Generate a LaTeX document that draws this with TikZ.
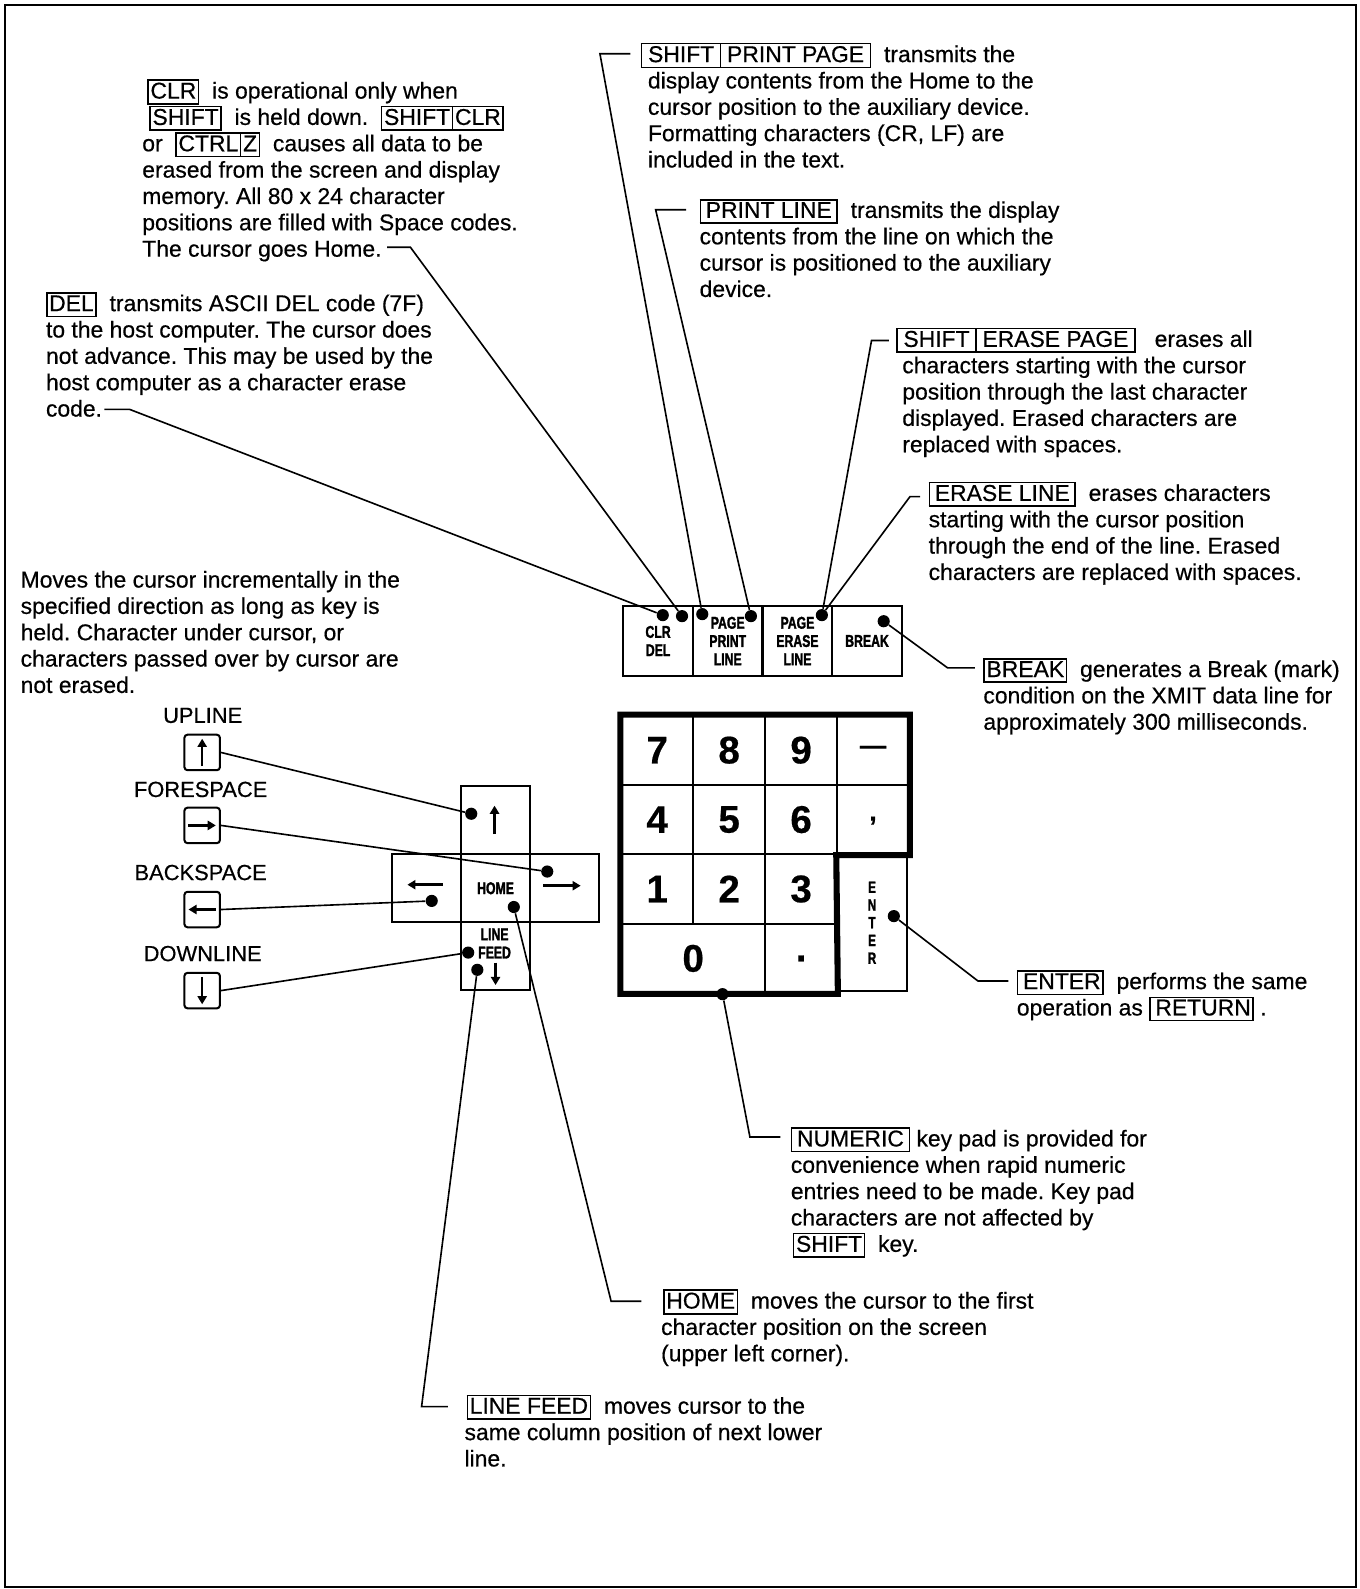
\documentclass[tikz,border=0pt]{standalone}
\usepackage{fontspec}
\setmainfont[FakeBold=0.5]{Liberation Sans}
\newfontfamily\keyfont[FakeStretch=0.72,FakeBold=1.6]{Liberation Sans Bold}
\usetikzlibrary{arrows.meta}
\setlength{\fboxsep}{0.8pt}
\setlength{\fboxrule}{0.75pt}
\newcommand{\kc}[1]{\fbox{\rule[-1.4pt]{0pt}{8.8pt}#1}}
\newcommand{\kcc}[2]{\kc{#1}\hspace{-\fboxrule}\kc{#2}}
\frenchspacing
\tikzset{
  kb frame/.style={line width=1pt},
  kb note/.style={font=\fontsize{11.3}{13}\selectfont, align=left, inner sep=0pt, anchor=north west},
  kb label/.style={font=\fontsize{10.8}{13}\selectfont, inner sep=0pt},
  kb fkey/.style={draw, line width=1.1pt, inner sep=0pt, minimum width=34.4pt, minimum height=34.5pt,
    align=center, font=\keyfont\fontsize{8.4}{9}\selectfont},
  kb num/.style={draw, line width=0.8pt, inner sep=0pt, minimum width=35.5pt, minimum height=34.25pt,
    font=\bfseries\fontsize{19}{19}\selectfont},
  kb thick/.style={line width=3pt, line join=miter},
  kb cross/.style={draw, line width=1pt, inner sep=0pt, minimum width=34pt, minimum height=33.5pt,
    font=\keyfont\fontsize{8.4}{9}\selectfont, align=center},
  kb small/.style={draw, line width=1pt, rounded corners=1.5pt, minimum size=17.5pt, inner sep=0pt},
  kb arrow/.style={line width=1.2pt, -{Triangle[length=4pt,width=4.5pt]}},
  kb dot/.style={circle, fill, inner sep=0pt, minimum size=6pt},
  kb lead/.style={line width=0.8pt}
}

\begin{document}
\begin{tikzpicture}[x=0.5pt, y=-0.5pt]
  \useasboundingbox (0,0) rectangle (1342,1568);
  \draw[kb frame] (5,5) rectangle (1338,1566);

  % notes
  \node[kb note] (clrNote) at (140,78) {\hspace{2.5pt}\kc{CLR}\ \ is operational only when\\
    \hspace{3.5pt}\kc{SHIFT}\ \ is held down.\ \ \kcc{SHIFT}{CLR}\\
    or\ \ \kcc{CTRL}{Z}\ \ causes all data to be\\
    erased from the screen and display\\
    memory. All 80 x 24 character\\
    positions are filled with Space codes.\\
    The cursor goes Home.};
  \node[kb note] (delNote) at (45,288) {\kc{DEL}\ \ transmits ASCII DEL code (7F)\\
    to the host computer. The cursor does\\
    not advance. This may be used by the\\
    host computer as a character erase\\
    code.};
  \node[kb note] (pageNote) at (639,42) {\hspace*{-3.5pt}\kcc{\hspace{2pt}SHIFT\hspace{2pt}}{\hspace{2pt}PRINT PAGE\hspace{2pt}}\ \ transmits the\\
    display contents from the Home to the\\
    cursor position to the auxiliary device.\\
    Formatting characters (CR, LF) are\\
    included in the text.};
  \node[kb note] (lineNote) at (690,196) {\kc{\hspace{1.5pt}PRINT LINE\hspace{1.5pt}}\ \ transmits the display\\
    contents from the line on which the\\
    cursor is positioned to the auxiliary\\
    device.};
  \node[kb note] (erasePageNote) at (890,323) {\hspace*{-3pt}\kcc{\hspace{2pt}SHIFT\hspace{2pt}}{\hspace{2pt}ERASE PAGE\hspace{2pt}}\ \ \ erases all\\
    characters starting with the cursor\\
    position through the last character\\
    displayed. Erased characters are\\
    replaced with spaces.};
  \node[kb note] (eraseLineNote) at (916,475) {\kc{\hspace{1.5pt}ERASE LINE\hspace{1.5pt}}\ \ erases characters\\
    starting with the cursor position\\
    through the end of the line. Erased\\
    characters are replaced with spaces.};
  \node[kb note] (breakNote) at (970,649) {\kc{BREAK}\ \ generates a Break (mark)\\
    condition on the XMIT data line for\\
    approximately 300 milliseconds.};
  \node[kb note] (enterNote) at (1003,957) {\kc{\hspace{1.5pt}ENTER}\ \ performs the same\\
    operation as \kc{\hspace{1.5pt}RETURN}\ .};
  \node[kb note] (numNote) at (780,1112) {\kc{\hspace{1.5pt}NUMERIC\hspace{1.5pt}}\ key pad is provided for\\
    convenience when rapid numeric\\
    entries need to be made. Key pad\\
    characters are not affected by\\
    \hspace{1pt}\kc{SHIFT}\ \ key.};
  \node[kb note] (homeNote) at (652,1272) {\hspace{1pt}\kc{HOME}\ \ moves the cursor to the first\\
    character position on the screen\\
    (upper left corner).};
  \node[kb note] (feedNote) at (458,1376) {\hspace{1pt}\kc{LINE FEED}\ \ moves cursor to the\\
    same column position of next lower\\
    line.};
  \node[kb note] (moveNote) at (20,563) {Moves the cursor incrementally in the\\
    specified direction as long as key is\\
    held. Character under cursor, or\\
    characters passed over by cursor are\\
    not erased.};

  % function keys
  \node[kb fkey] (fClr) at (649.4,632.5) {CLR\\DEL};
  \node[kb fkey] (fPrint) at (718.1,632.5) {PAGE\\PRINT\\LINE};
  \node[kb fkey] (fErase) at (786.9,632.5) {PAGE\\ERASE\\LINE};
  \node[kb fkey] (fBreak) at (855.6,632.5) {BREAK};

  % numeric pad
  \node[kb num] (n7) at (648.5,740.25) {7};
  \node[kb num] (n8) at (719.5,740.25) {8};
  \node[kb num] (n9) at (790.5,740.25) {9};
  \node[kb num] (nMinus) at (861.5,740.25) {\fontsize{13}{13}\selectfont —};
  \node[kb num] (n4) at (648.5,808.75) {4};
  \node[kb num] (n5) at (719.5,808.75) {5};
  \node[kb num] (n6) at (790.5,808.75) {6};
  \node[kb num] (nComma) at (861.5,808.75) {\fontsize{13}{13}\selectfont\raisebox{-3pt}{,}};
  \node[kb num] (n1) at (648.5,877.25) {1};
  \node[kb num] (n2) at (719.5,877.25) {2};
  \node[kb num] (n3) at (790.5,877.25) {3};
  \node[kb num, minimum width=71pt] (n0) at (684,945.75) {0};
  \node[kb num] (nDot) at (790.5,945.75) {\raisebox{-2pt}{.}};
  \node[kb num, minimum width=34.5pt, minimum height=67.5pt, align=center,
    font=\keyfont\fontsize{8}{8.75}\selectfont] (nEnter) at (860.5,910.5) {E\\N\\T\\E\\R};
  \draw[kb thick] (n7.north west) -- (nMinus.north east) -- (nComma.south east) -- (nComma.south west)
    -- (nDot.south east) -- (n0.south west) -- cycle;

  % cursor cross
  \node[kb cross] (cUp) at (489,809.5) {};
  \node[kb cross] (cHome) at (489,876.5) {HOME};
  \node[kb cross] (cFeed) at (489,943.5) {};
  \node[kb cross] (cLeft) at (421,876.5) {};
  \node[kb cross] (cRight) at (557,876.5) {};
  \node[font=\keyfont\fontsize{8.4}{9}\selectfont, align=center, inner sep=0pt] (feedText) at (488,931) {LINE\\FEED};
  \draw[kb arrow] (488,823) -- (488,795);
  \draw[kb arrow] (536,874) -- (573,874);
  \draw[kb arrow] (437,873) -- (402,873);
  \draw[kb arrow] (489,950) -- (489,972);

  % single keys
  \node[kb label] (upLabel) at (200,706) {UPLINE};
  \node[kb label] (foreLabel) at (198,779) {FORESPACE};
  \node[kb label] (backLabel) at (198,861) {BACKSPACE};
  \node[kb label] (downLabel) at (200,941) {DOWNLINE};
  \node[kb small] (upKey) at (199.5,742.5) {};
  \node[kb small] (foreKey) at (199.5,814.5) {};
  \node[kb small] (backKey) at (199.5,897.5) {};
  \node[kb small] (downKey) at (199.5,977.5) {};
  \draw[kb arrow] (199.5,756) -- (199.5,729);
  \draw[kb arrow] (186,814.5) -- (213,814.5);
  \draw[kb arrow] (213,897.5) -- (186,897.5);
  \draw[kb arrow] (199.5,964) -- (199.5,991);

  % dots
  \node[kb dot] (delDot) at (654,607) {};
  \node[kb dot] (clrDot) at (673,608) {};
  \node[kb dot] (pageDot) at (693,606) {};
  \node[kb dot] (lineDot) at (741,608) {};
  \node[kb dot] (eraseDot) at (811,607) {};
  \node[kb dot] (breakDot) at (872,613) {};
  \node[kb dot] (enterDot) at (882,904) {};
  \node[kb dot] (numDot) at (713,981) {};
  \node[kb dot] (upDot) at (465,803) {};
  \node[kb dot] (rightDot) at (540,860) {};
  \node[kb dot] (leftDot) at (426,889) {};
  \node[kb dot] (homeDot) at (507,895) {};
  \node[kb dot] (feedDot) at (462,940) {};
  \node[kb dot] (lfDot) at (471,957) {};

  % leaders
  \coordinate (clrLead) at (382,244);   \coordinate (clrBend) at (405,244);
  \coordinate (delLead) at (103,404);   \coordinate (delBend) at (128,404);
  \coordinate (pageLead) at (622,53);   \coordinate (pageBend) at (592,53);
  \coordinate (lineLead) at (677,207);  \coordinate (lineBend) at (647,207);
  \coordinate (epLead) at (877,336);    \coordinate (epBend) at (860,336);
  \coordinate (elLead) at (908,490);    \coordinate (elBend) at (898,490);
  \coordinate (breakLead) at (962,659); \coordinate (breakBend) at (935,659);
  \coordinate (enterLead) at (995,968); \coordinate (enterBend) at (965,968);
  \coordinate (numLead) at (770,1122);  \coordinate (numBend) at (740,1122);
  \coordinate (homeLead) at (633,1284); \coordinate (homeBend) at (603,1284);
  \coordinate (lfLead) at (442,1388);   \coordinate (lfBend) at (416,1388);

  \draw[kb lead] (clrLead) -- (clrBend) -- (clrDot);
  \draw[kb lead] (delLead) -- (delBend) -- (delDot);
  \draw[kb lead] (pageLead) -- (pageBend) -- (pageDot);
  \draw[kb lead] (lineLead) -- (lineBend) -- (lineDot);
  \draw[kb lead] (epLead) -- (epBend) -- (eraseDot);
  \draw[kb lead] (elLead) -- (elBend) -- (eraseDot);
  \draw[kb lead] (breakDot) -- (breakBend) -- (breakLead);
  \draw[kb lead] (enterDot) -- (enterBend) -- (enterLead);
  \draw[kb lead] (numDot) -- (numBend) -- (numLead);
  \draw[kb lead] (homeDot) -- (homeBend) -- (homeLead);
  \draw[kb lead] (lfDot) -- (lfBend) -- (lfLead);
  \draw[kb lead] (upKey.east) -- (upDot);
  \draw[kb lead] (foreKey.east) -- (rightDot);
  \draw[kb lead] (backKey.east) -- (leftDot);
  \draw[kb lead] (downKey.east) -- (feedDot);
\end{tikzpicture}
\end{document}
